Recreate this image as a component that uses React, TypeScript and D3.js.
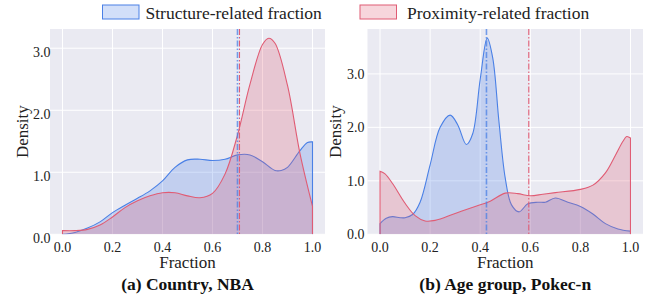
import React from "react";
import * as d3 from "d3";

// tick values shared by both panels
const xTicks = [0, 0.2, 0.4, 0.6, 0.8, 1.0];
const yTicks = [0, 1, 2, 3];

// (a) Country, NBA
const nbaStructX = [0, 0.05, 0.1, 0.15, 0.2, 0.25, 0.3, 0.35, 0.4, 0.45, 0.5, 0.55, 0.6, 0.65, 0.7, 0.75, 0.8, 0.85, 0.875, 0.9, 0.95, 0.98, 1.0];
const nbaStructD = [0.0, 0.03, 0.1, 0.2, 0.35, 0.47, 0.58, 0.7, 0.86, 1.08, 1.2, 1.21, 1.19, 1.21, 1.28, 1.28, 1.17, 1.03, 1.03, 1.08, 1.35, 1.48, 1.49];
const nbaProxX = [0, 0.05, 0.1, 0.15, 0.2, 0.25, 0.3, 0.35, 0.4, 0.45, 0.5, 0.55, 0.6, 0.65, 0.7, 0.75, 0.8, 0.825, 0.85, 0.9, 0.95, 1.0];
const nbaProxD = [0.06, 0.06, 0.08, 0.15, 0.28, 0.43, 0.54, 0.62, 0.67, 0.67, 0.62, 0.59, 0.66, 0.97, 1.6, 2.42, 3.06, 3.16, 3.08, 2.4, 1.3, 0.45];
const nbaStructMean = 0.70;
const nbaProxMean = 0.708;

// (b) Age group, Pokec-n
const pokecStructX = [0, 0.025, 0.05, 0.08, 0.1, 0.13, 0.16, 0.2, 0.24, 0.28, 0.31, 0.345, 0.37, 0.4, 0.428, 0.45, 0.475, 0.5, 0.525, 0.555, 0.59, 0.63, 0.66, 0.7, 0.75, 0.8, 0.85, 0.9, 0.95, 1.0];
const pokecStructD = [0.2, 0.3, 0.33, 0.31, 0.31, 0.37, 0.6, 1.3, 2.0, 2.23, 2.05, 1.68, 1.88, 2.9, 3.67, 3.3, 2.1, 1.05, 0.55, 0.42, 0.57, 0.6, 0.6, 0.68, 0.6, 0.52, 0.38, 0.2, 0.1, 0.06];
const pokecProxX = [0, 0.02, 0.05, 0.1, 0.14, 0.18, 0.22, 0.3, 0.38, 0.44, 0.5, 0.55, 0.6, 0.65, 0.7, 0.8, 0.85, 0.9, 0.94, 0.97, 0.985, 1.0];
const pokecProxD = [1.18, 1.13, 0.95, 0.58, 0.35, 0.25, 0.26, 0.39, 0.52, 0.62, 0.77, 0.76, 0.72, 0.75, 0.78, 0.84, 0.92, 1.15, 1.48, 1.74, 1.83, 1.8];
const pokecStructMean = 0.425;
const pokecProxMean = 0.594;

const legendLabels = ["Structure-related fraction", "Proximity-related fraction"];

const BLUE = "#4a80e6";
const RED = "#e05c74";
const FONT = "Liberation Serif";

interface PanelProps {
  left: number;
  right: number;
  top: number;
  bottom: number;
  yMax: number;
  caption: string;
  structX: number[];
  structD: number[];
  proxX: number[];
  proxD: number[];
  structMean: number;
  proxMean: number;
  yLabelX: number;
  tickEnd: number;
  tickDy: number;
}

const Panel: React.FC<PanelProps> = (p) => {
  const x = d3.scaleLinear().domain([-0.05, 1.05]).range([p.left, p.right]);
  const y = d3.scaleLinear().domain([0, p.yMax]).range([p.bottom, p.top]);

  const area = d3
    .area<[number, number]>()
    .x((d) => x(d[0]))
    .y0(y(0))
    .y1((d) => y(d[1]))
    .curve(d3.curveCatmullRom.alpha(0.5));
  const line = d3
    .line<[number, number]>()
    .x((d) => x(d[0]))
    .y((d) => y(d[1]))
    .curve(d3.curveCatmullRom.alpha(0.5));

  // curve with vertical edges at both ends, as the kde fill outline
  const outline = (pts: [number, number][]) => {
    const path = line(pts) || "";
    const x0 = x(pts[0][0]);
    const x1 = x(pts[pts.length - 1][0]);
    return `M${x0},${y(0)}L${path.slice(1)}L${x1},${y(0)}`;
  };

  const structPts = p.structX.map((v, i) => [v, p.structD[i]] as [number, number]);
  const proxPts = p.proxX.map((v, i) => [v, p.proxD[i]] as [number, number]);
  const cx = (p.left + p.right) / 2;
  const cy = (p.top + p.bottom) / 2;
  const clipId = `clip-${Math.round(p.left)}`;

  return (
    <g>
      <defs>
        <clipPath id={clipId}>
          <rect x={p.left} y={p.top} width={p.right - p.left} height={p.bottom - p.top} />
        </clipPath>
      </defs>
      <rect x={p.left} y={p.top} width={p.right - p.left} height={p.bottom - p.top} fill="#eaeaf2" />
      {xTicks.map((t) => (
        <line key={"gx" + t} x1={x(t)} x2={x(t)} y1={p.top} y2={p.bottom} stroke="#fff" strokeWidth={1} />
      ))}
      {yTicks.map((t) => (
        <line key={"gy" + t} x1={p.left} x2={p.right} y1={y(t)} y2={y(t)} stroke="#fff" strokeWidth={1} />
      ))}
      <g clipPath={`url(#${clipId})`}>
        <path d={area(structPts) || ""} fill={BLUE} fillOpacity={0.25} />
        <path d={outline(structPts)} fill="none" stroke={BLUE} strokeWidth={1.1} />
        <path d={area(proxPts) || ""} fill={RED} fillOpacity={0.25} />
        <path d={outline(proxPts)} fill="none" stroke={RED} strokeWidth={1.1} />
        <line
          x1={x(p.structMean)} x2={x(p.structMean)} y1={p.top} y2={p.bottom}
          stroke={BLUE} strokeWidth={1.6} strokeOpacity={0.75} strokeDasharray="6,2,1.5,2"
        />
        <line
          x1={x(p.proxMean)} x2={x(p.proxMean)} y1={p.top} y2={p.bottom}
          stroke={RED} strokeWidth={1.1} strokeDasharray="6,2,1.5,2"
        />
      </g>
      {xTicks.map((t) => (
        <text key={"tx" + t} x={x(t)} y={252} textAnchor="middle" fontSize={14} fill="#222" fontFamily={FONT}>
          {t.toFixed(1)}
        </text>
      ))}
      {yTicks.map((t) => (
        <text key={"ty" + t} x={p.tickEnd} y={y(t) + p.tickDy} textAnchor="end" fontSize={14} fill="#222" fontFamily={FONT}>
          {t.toFixed(1)}
        </text>
      ))}
      <text x={cx} y={268} textAnchor="middle" fontSize={17} fill="#222" fontFamily={FONT}>Fraction</text>
      <text
        transform={`translate(${p.yLabelX},${cy}) rotate(-90)`}
        textAnchor="middle" fontSize={17} fill="#222" fontFamily={FONT}
      >
        Density
      </text>
      <text x={cx} y={290} textAnchor="middle" fontSize={17.5} fontWeight="bold" fill="#111" fontFamily={FONT}>
        {p.caption}
      </text>
    </g>
  );
};

const App: React.FC = () => {
  return (
    <svg width={665} height={303} style={{ position: "absolute", left: 0, top: 0, background: "#fff" }}>
      {/* Legend */}
      <rect x={102.5} y={5} width={36.5} height={14} fill={BLUE} fillOpacity={0.25} stroke={BLUE} strokeWidth={1} />
      <text x={145.5} y={18.5} fontSize={17.5} fill="#222" fontFamily={FONT}>{legendLabels[0]}</text>
      <rect x={360} y={5} width={36.5} height={14} fill={RED} fillOpacity={0.25} stroke={RED} strokeWidth={1} />
      <text x={407} y={18.5} fontSize={17.5} fill="#222" fontFamily={FONT}>{legendLabels[1]}</text>

      <Panel
        left={50} right={325} top={29} bottom={234.3} yMax={3.31}
        caption="(a) Country, NBA"
        structX={nbaStructX} structD={nbaStructD} proxX={nbaProxX} proxD={nbaProxD}
        structMean={nbaStructMean} proxMean={nbaProxMean}
        yLabelX={27.5} tickEnd={50.5} tickDy={9}
      />
      <Panel
        left={367.5} right={643} top={29} bottom={234.3} yMax={3.84}
        caption="(b) Age group, Pokec-n"
        structX={pokecStructX} structD={pokecStructD} proxX={pokecProxX} proxD={pokecProxD}
        structMean={pokecStructMean} proxMean={pokecProxMean}
        yLabelX={341} tickEnd={364.5} tickDy={5}
      />
    </svg>
  );
};

export default App;
